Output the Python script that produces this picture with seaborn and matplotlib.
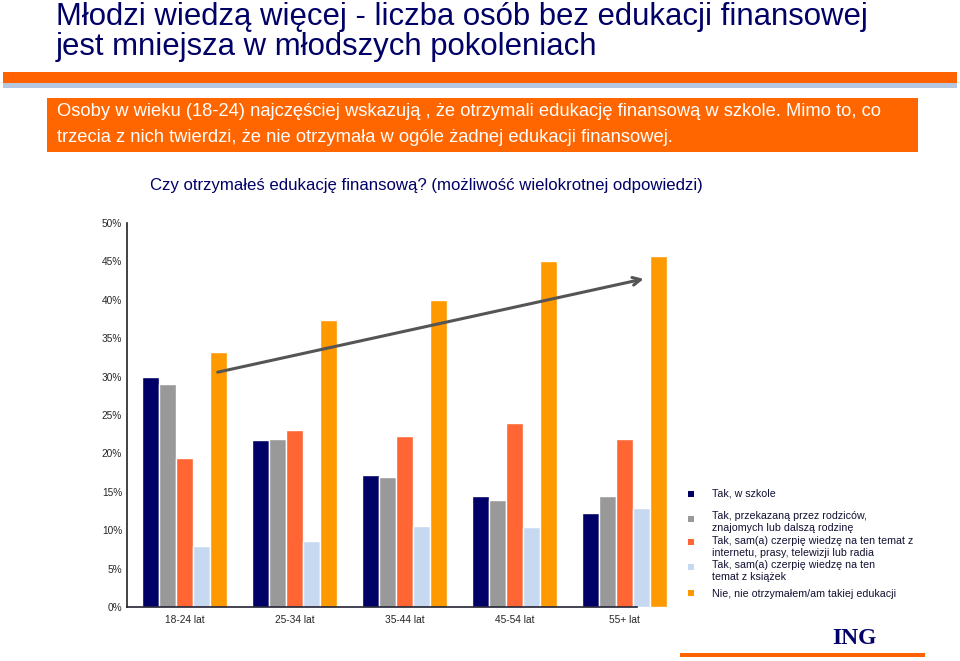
import pandas as pd
import matplotlib
matplotlib.use("Agg")
import matplotlib.pyplot as plt
import seaborn as sns
from matplotlib.patches import Rectangle
from matplotlib.ticker import FuncFormatter

# data (percent)
age_groups = ["18-24 lat", "25-34 lat", "35-44 lat", "45-54 lat", "55+ lat"]
answers = [
    "Tak, w szkole",
    "Tak, przekazaną przez rodziców,\nznajomych lub dalszą rodzinę",
    "Tak, sam(a) czerpię wiedzę na ten temat z\ninternetu, prasy, telewizji lub radia",
    "Tak, sam(a) czerpię wiedzę na ten\ntemat z książek",
    "Nie, nie otrzymałem/am takiej edukacji",
]
w_szkole = [30.0, 21.8, 17.2, 14.4, 12.2]
od_rodzicow = [29.1, 21.9, 16.9, 13.9, 14.4]
z_mediow = [19.4, 23.0, 22.3, 23.9, 21.9]
z_ksiazek = [7.9, 8.6, 10.5, 10.4, 12.9]
brak = [33.2, 37.4, 40.0, 45.1, 45.7]
colors = ["#000066", "#999999", "#FF6633", "#C6D9F0", "#FF9900"]

series = [w_szkole, od_rodzicow, z_mediow, z_ksiazek, brak]
rows = []
for ans, vals in zip(answers, series):
    for grp, v in zip(age_groups, vals):
        rows.append({"grupa": grp, "odpowiedz": ans, "procent": v})
df = pd.DataFrame(rows)

sns.set_style("white")
plt.rcParams["font.family"] = ["Liberation Sans", "DejaVu Sans"]
navy = "#000066"

fig = plt.figure(figsize=(9.6, 6.61), dpi=100)
W, H = 960, 661

def fx(px):
    return px / W

def fy(py):
    return 1 - py / H

# title (two lines placed on their baselines)
fig.text(fx(56), fy(25), "Młodzi wiedzą więcej - liczba osób bez edukacji finansowej",
         fontsize=22.4, color=navy, va="baseline", ha="left")
fig.text(fx(56), fy(55), "jest mniejsza w młodszych pokoleniach",
         fontsize=22.4, color=navy, va="baseline", ha="left")

# decorative strips
fig.add_artist(Rectangle((fx(3), fy(83)), fx(957) - fx(3), fy(72) - fy(83),
                         transform=fig.transFigure, color="#FF6200", lw=0))
fig.add_artist(Rectangle((fx(3), fy(88)), fx(957) - fx(3), fy(83) - fy(88),
                         transform=fig.transFigure, color="#B4C6E0", lw=0))

# orange box with the key message
fig.add_artist(Rectangle((fx(47), fy(152)), fx(918) - fx(47), fy(98) - fy(152),
                         transform=fig.transFigure, color="#FF6600", lw=0))
fig.text(fx(57), fy(112), "Osoby w wieku (18-24) najczęściej wskazują , że otrzymali edukację finansową w szkole. Mimo to, co",
         fontsize=13.2, color="white", va="center")
fig.text(fx(57), fy(137), "trzecia z nich twierdzi, że nie otrzymała w ogóle żadnej edukacji finansowej.",
         fontsize=13.2, color="white", va="center")

# question
fig.text(fx(150), fy(185), "Czy otrzymałeś edukację finansową? (możliwość wielokrotnej odpowiedzi)",
         fontsize=12.1, color=navy, va="center")

# bar chart
ax = fig.add_axes([fx(127), fy(607), fx(680) - fx(127), fy(223) - fy(607)])
sns.barplot(data=df, x="grupa", y="procent", hue="odpowiedz", order=age_groups,
            hue_order=answers, palette=colors, saturation=1, width=0.773,
            legend=False, ax=ax)
ax.set_xlim(-0.523, 4.505)
ax.set_ylim(0, 50)
ax.set_yticks(range(0, 51, 5))
ax.yaxis.set_major_formatter(FuncFormatter(lambda v, p: f"{int(v)}%"))
ax.set_xlabel("")
ax.set_ylabel("")
ax.tick_params(axis="y", length=5, width=1, color="#333333", labelsize=7.3, pad=1, direction="inout")
ax.tick_params(axis="x", length=0, labelsize=7.3, pad=6)
for s in ["top", "right"]:
    ax.spines[s].set_visible(False)
ax.spines["left"].set_color("#222222")
ax.spines["bottom"].set_color("#222233")
ax.spines["left"].set_linewidth(1.2)
ax.spines["bottom"].set_linewidth(1.2)
ax.spines["bottom"].set_bounds(-0.523, 4.11)
ax.patch.set_alpha(0)

# trend arrow
ax.annotate("", xy=(4.20, 42.8), xytext=(0.277, 30.5),
            arrowprops=dict(arrowstyle="->", color="#555555", lw=2.2, mutation_scale=14))

# legend
marker_y = [494, 519, 542, 567, 593]
text_y = [494, 522, 547, 571, 594]
for c, lab, my, ty in zip(colors, answers, marker_y, text_y):
    fig.add_artist(Rectangle((fx(688), fy(my + 3)), fx(6), fy(0) - fy(6),
                             transform=fig.transFigure, color=c, lw=0))
    fig.text(fx(712), fy(ty), lab, fontsize=7.7, color="#111133", va="center",
             ha="left", linespacing=1.3)

# ING logo text and bottom line
fig.text(fx(832), fy(638), "ING", family=["Liberation Serif", "DejaVu Serif"],
         fontsize=17, weight="bold", color=navy, va="center")
fig.add_artist(Rectangle((fx(680), fy(657)), fx(925) - fx(680), fy(653) - fy(657),
                         transform=fig.transFigure, color="#FF6200", lw=0))

fig.savefig("out.png", dpi=100)
